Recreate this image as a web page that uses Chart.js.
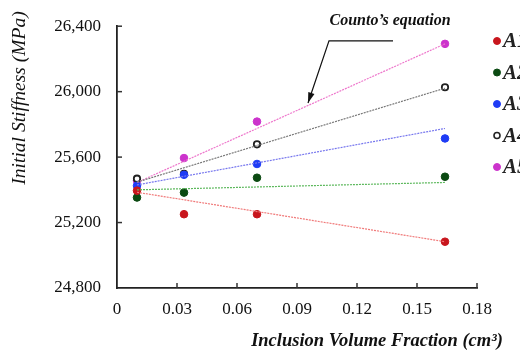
<!DOCTYPE html>
<html>
<head>
<meta charset="utf-8">
<script src="https://cdn.jsdelivr.net/npm/chart.js@4.4.1/dist/chart.umd.min.js"></script>
<style>
  body { margin: 0; background: #fff; }
  #wrap { width: 520px; height: 355px; }
</style>
</head>
<body>
<div id="wrap"><canvas id="stiffnessChart" width="520" height="355"></canvas></div>
<script>
// inclusion volume fractions of the tested mixes
const fractions = [0.01, 0.0335, 0.07, 0.164];
const seriesNames = ['A1', 'A2', 'A3', 'A4', 'A5'];

// measured initial stiffness (MPa)
const a1 = [25395, 25251, 25251, 25083];
const a2 = [25353, 25383, 25474, 25480];
const a3 = [25425, 25492, 25558, 25714];
const a4 = [25468, 25498, 25678, 26027];
const a5 = [25456, 25594, 25817, 26292];

// Counto's equation lines (start / end fraction)
const countoX = [0.01, 0.164];
const counto1 = [25385, 25083];
const counto2 = [25400, 25445];
const counto3 = [25430, 25775];
const counto4 = [25447, 26021];
const counto5 = [25445, 26292];

const xMin = 0, xMax = 0.18, xStep = 0.03;
const yMin = 24800, yMax = 26400, yStep = 400;

const xTitle = 'Inclusion Volume Fraction (cm³)';
const yTitle = 'Initial Stiffness (MPa)';
const noteText = 'Counto\u2019s equation';

const serif = "'Liberation Serif', 'Times New Roman', serif";

const measured = [a1, a2, a3, a4, a5];
const counto = [counto1, counto2, counto3, counto4, counto5];
const pointColors = ['#c8161d', '#0b4a12', '#1f3cf5', '#222222', '#cc33cc'];
const pointFills = ['#c8161d', '#0b4a12', '#1f3cf5', '#ffffff', '#cc33cc'];
const lineColors = ['#f07a7a', '#5cb85c', '#7777ee', '#777777', '#ee77cc'];

const toPts = (xs, ys) => xs.map((x, i) => ({ x: x, y: ys[i] }));

const datasets = [];
counto.forEach((vals, i) => {
    datasets.push({
        label: 'Counto ' + seriesNames[i],
        data: toPts(countoX, vals),
        showLine: true,
        borderColor: lineColors[i],
        borderWidth: 1.2,
        borderDash: [2, 1],
        pointRadius: 0,
        fill: false
    });
});
measured.forEach((vals, i) => {
    datasets.push({
        label: seriesNames[i],
        data: toPts(fractions, vals),
        showLine: false,
        pointRadius: i === 3 ? 3.2 : 3.8,
        pointBackgroundColor: pointFills[i],
        pointBorderColor: pointColors[i],
        pointBorderWidth: i === 3 ? 1.8 : 1
    });
});

// ticks pointing into the plot, titles, note with arrow and legend
const decorations = {
    id: 'decorations',
    afterDraw(chart) {
        const ctx = chart.ctx;
        const xs = chart.scales.x, ys = chart.scales.y;
        const area = chart.chartArea;
        ctx.save();
        ctx.strokeStyle = '#333';
        ctx.lineWidth = 1.5;
        xs.ticks.forEach(t => {
            const px = xs.getPixelForValue(t.value);
            if (t.value === xMin) return;
            ctx.beginPath();
            ctx.moveTo(px, area.bottom);
            ctx.lineTo(px, area.bottom - 5);
            ctx.stroke();
        });
        ys.ticks.forEach(t => {
            const py = ys.getPixelForValue(t.value);
            if (t.value === yMin) return;
            ctx.beginPath();
            ctx.moveTo(area.left, py);
            ctx.lineTo(area.left + 5, py);
            ctx.stroke();
        });

        // axis titles
        ctx.fillStyle = '#111';
        ctx.font = 'italic bold 18.5px ' + serif;
        ctx.textAlign = 'center';
        ctx.textBaseline = 'middle';
        ctx.fillText(xTitle, 377, 341);
        ctx.save();
        ctx.translate(20, 98);
        ctx.rotate(-Math.PI / 2);
        ctx.font = 'italic 19.5px ' + serif;
        ctx.fillText(yTitle, 0, 0);
        ctx.restore();

        // note and arrow
        ctx.font = 'italic bold 16px ' + serif;
        ctx.fillText(noteText, xs.getPixelForValue(0.1365), 21);
        const hy = ys.getPixelForValue(26310);
        const hx0 = xs.getPixelForValue(0.138), hx1 = xs.getPixelForValue(0.106);
        const tx = xs.getPixelForValue(0.0955), ty = ys.getPixelForValue(25931);
        ctx.strokeStyle = '#111';
        ctx.lineWidth = 1.2;
        ctx.beginPath();
        ctx.moveTo(hx0, hy);
        ctx.lineTo(hx1, hy);
        ctx.lineTo(tx, ty);
        ctx.stroke();
        const ang = Math.atan2(ty - hy, tx - hx1);
        ctx.fillStyle = '#111';
        ctx.beginPath();
        ctx.moveTo(tx, ty);
        ctx.lineTo(tx - 11 * Math.cos(ang - 0.3), ty - 11 * Math.sin(ang - 0.3));
        ctx.lineTo(tx - 11 * Math.cos(ang + 0.3), ty - 11 * Math.sin(ang + 0.3));
        ctx.closePath();
        ctx.fill();

        // legend
        ctx.font = 'italic bold 21px ' + serif;
        ctx.textAlign = 'left';
        seriesNames.forEach((name, i) => {
            const ly = 41 + i * 31.5;
            ctx.beginPath();
            ctx.arc(497, ly, i === 3 ? 3 : 3.5, 0, Math.PI * 2);
            ctx.fillStyle = pointFills[i];
            ctx.fill();
            ctx.strokeStyle = pointColors[i];
            ctx.lineWidth = i === 3 ? 1.6 : 1;
            ctx.stroke();
            ctx.fillStyle = '#222';
            ctx.fillText(name, 503, ly + 1);
        });
        ctx.restore();
    }
};

new Chart(document.getElementById('stiffnessChart'), {
    type: 'scatter',
    data: { datasets: datasets },
    options: {
        responsive: false,
        animation: false,
        layout: { padding: { left: 0, top: 22, right: 43, bottom: 0 } },
        plugins: {
            legend: { display: false },
            tooltip: { enabled: false }
        },
        scales: {
            x: {
                type: 'linear',
                min: xMin,
                max: xMax,
                afterFit: s => { s.height = 67; },
                grid: { display: true, drawOnChartArea: false, drawTicks: false },
                border: { color: '#222', width: 1.8 },
                ticks: {
                    stepSize: xStep,
                    padding: 11,
                    color: '#111',
                    font: { family: serif, size: 17 },
                    callback: v => String(Number(v.toFixed(2)))
                }
            },
            y: {
                min: yMin,
                max: yMax,
                afterFit: s => { s.width = 117; },
                grid: { display: true, drawOnChartArea: false, drawTicks: false },
                border: { color: '#222', width: 1.8 },
                ticks: {
                    stepSize: yStep,
                    padding: 16,
                    color: '#111',
                    font: { family: serif, size: 17 },
                    callback: v => v.toLocaleString('en-US')
                }
            }
        }
    },
    plugins: [decorations]
});
</script>
</body>
</html>
